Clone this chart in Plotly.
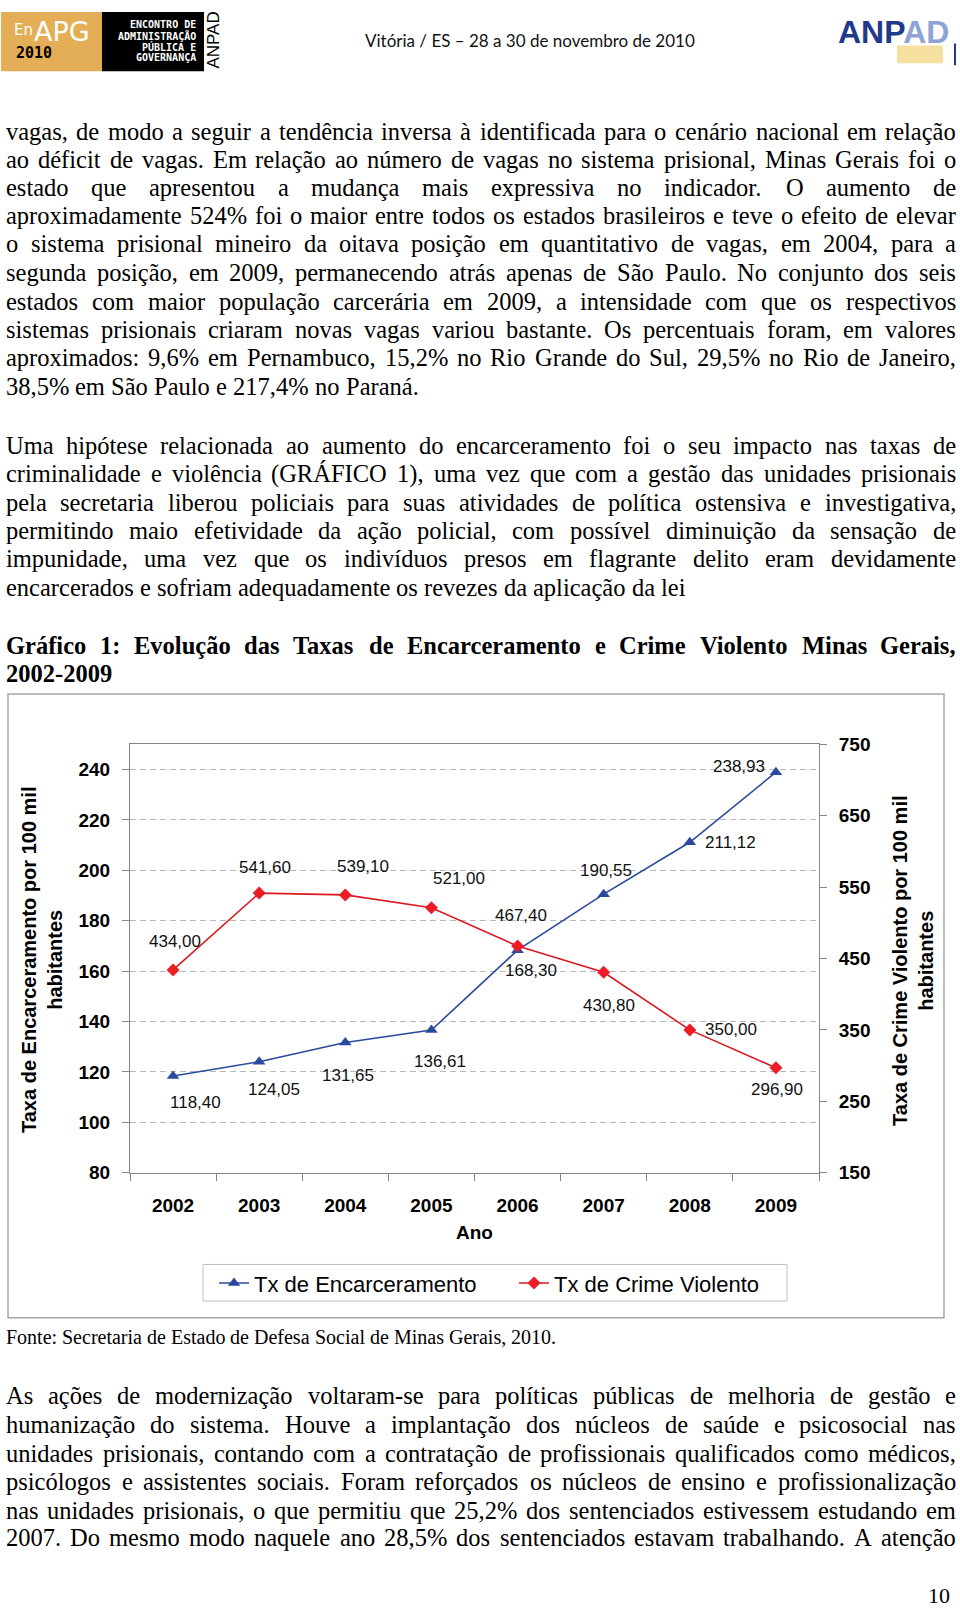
import unicodedata
import plotly.graph_objects as go

W, H = 960, 1616

# ---------------- chart data ----------------
years = ["2002", "2003", "2004", "2005", "2006", "2007", "2008", "2009"]
encarceramento = [118.40, 124.05, 131.65, 136.61, 168.30, 190.55, 211.12, 238.93]
crime_violento = [434.00, 541.60, 539.10, 521.00, 467.40, 430.80, 350.00, 296.90]
enc_labels = ["118,40", "124,05", "131,65", "136,61", "168,30", "190,55", "211,12", "238,93"]
crime_labels = ["434,00", "541,60", "539,10", "521,00", "467,40", "430,80", "350,00", "296,90"]
left_ticks = [80, 100, 120, 140, 160, 180, 200, 220, 240]
right_ticks = [150, 250, 350, 450, 550, 650, 750]

# label offsets (pixels: dx right, dy up)
enc_off = [(22, -27), (15, -28), (3, -33), (9, -31), (13, -20), (2, 24), (41, 0), (-37, 6)]
crime_off = [(2, 28), (6, 26), (18, 28), (28, 29), (3, 31), (5, -33), (41, 0), (1, -22)]

# ---------------- page text ----------------
para1 = [
    "vagas, de modo a seguir a tendência inversa à identificada para o cenário nacional em relação",
    "ao déficit de vagas. Em relação ao número de vagas no sistema prisional, Minas Gerais foi o",
    "estado que apresentou a mudança mais expressiva no indicador. O aumento de",
    "aproximadamente 524% foi o maior entre todos os estados brasileiros e teve o efeito de elevar",
    "o sistema prisional mineiro da oitava posição em quantitativo de vagas, em 2004, para a",
    "segunda posição, em 2009, permanecendo atrás apenas de São Paulo. No conjunto dos seis",
    "estados com maior população carcerária em 2009, a intensidade com que os respectivos",
    "sistemas prisionais criaram novas vagas variou bastante. Os percentuais foram, em valores",
    "aproximados: 9,6% em Pernambuco, 15,2% no Rio Grande do Sul, 29,5% no Rio de Janeiro,",
    "38,5% em São Paulo e 217,4% no Paraná.",
]
para1_y = [123, 151.5, 180, 208.5, 237, 266, 295, 323.5, 352, 381]

para2 = [
    "Uma hipótese relacionada ao aumento do encarceramento foi o seu impacto nas taxas de",
    "criminalidade e violência (GRÁFICO 1), uma vez que com a gestão das unidades prisionais",
    "pela secretaria liberou policiais para suas atividades de política ostensiva e investigativa,",
    "permitindo maio efetividade da ação policial, com possível diminuição da sensação de",
    "impunidade, uma vez que os indivíduos presos em flagrante delito eram devidamente",
    "encarcerados e sofriam adequadamente os revezes da aplicação da lei",
]
para2_y = [441, 470, 498.5, 527, 556, 585]

title_lines = [
    "Gráfico 1: Evolução das Taxas de Encarceramento e Crime Violento Minas Gerais,",
    "2002-2009",
]
title_y = [644, 672]

para3 = [
    "As ações de modernização voltaram-se para políticas públicas de melhoria de gestão e",
    "humanização do sistema. Houve a implantação dos núcleos de saúde e psicosocial nas",
    "unidades prisionais, contando com a contratação de profissionais qualificados como médicos,",
    "psicólogos e assistentes sociais. Foram reforçados os núcleos de ensino e profissionalização",
    "nas unidades prisionais, o que permitiu que 25,2% dos sentenciados estivessem estudando em",
    "2007. Do mesmo modo naquele ano 28,5% dos sentenciados estavam trabalhando. A atenção",
]
para3_y = [1404, 1433, 1462, 1491, 1520, 1548]

fonte_text = "Fonte: Secretaria de Estado de Defesa Social de Minas Gerais, 2010."

# ---------------- Times metrics (per 1000 em) ----------------
def _m(lower, upper):
    d = {}
    for ch, v in zip("abcdefghijklmnopqrstuvwxyz", lower):
        d[ch] = v
    for ch, v in zip("ABCDEFGHIJKLMNOPQRSTUVWXYZ", upper):
        d[ch] = v
    for ch in "0123456789":
        d[ch] = 500
    return d

TIMES = _m([444, 500, 444, 500, 444, 333, 500, 500, 278, 278, 500, 278, 778, 500, 500, 500, 500, 333, 389, 278, 500, 500, 722, 500, 500, 444],
           [722, 667, 667, 722, 611, 556, 722, 722, 333, 389, 722, 611, 889, 722, 722, 556, 722, 667, 556, 611, 722, 722, 944, 722, 722, 611])
TIMES.update({" ": 250, ",": 250, ".": 250, ":": 278, ";": 278, "%": 833, "-": 333, "(": 333, ")": 333, "/": 278})
TIMES_B = _m([500, 556, 444, 556, 444, 333, 500, 556, 278, 333, 556, 278, 833, 556, 500, 556, 556, 444, 389, 333, 556, 500, 722, 500, 500, 444],
             [722, 667, 722, 722, 667, 611, 778, 778, 389, 500, 778, 667, 944, 722, 778, 611, 778, 722, 556, 667, 722, 722, 1000, 722, 722, 667])
TIMES_B.update({" ": 250, ",": 250, ".": 250, ":": 333, ";": 333, "%": 1000, "-": 333, "(": 333, ")": 333, "/": 278})


def text_width(s, fs, bold=False):
    tbl = TIMES_B if bold else TIMES
    w = 0
    for ch in s:
        if ch in tbl:
            w += tbl[ch]
        else:
            base = unicodedata.normalize("NFD", ch)[0]
            w += tbl.get(base, 500)
    return w * fs / 1000.0


def px(x):
    return x / W


def py(y):
    return 1 - y / H


annotations = []
shapes = []

SERIF = "Liberation Serif, Times New Roman, serif"
SANS = "Liberation Sans, Arial, sans-serif"
BODY_FS = 24.5
X0, X1 = 5, 955


def add_line(line, y, fs, bold=False, justify=True):
    words = line.split(" ")
    widths = [text_width(w, fs, bold) for w in words]
    if justify and len(words) > 1:
        gap = (X1 - X0 - sum(widths)) / (len(words) - 1)
    else:
        gap = text_width(" ", fs, bold)
    x = X0
    for wd_text, wd in zip(words, widths):
        annotations.append(dict(
            x=px(x), y=py(y), xref="paper", yref="paper", text=wd_text,
            xanchor="left", yanchor="middle", showarrow=False, borderpad=0,
            font=dict(family=SERIF, size=fs, color="black", weight="bold" if bold else "normal")))
        x += wd + gap


for i, (ln, yy) in enumerate(zip(para1, para1_y)):
    add_line(ln, yy, BODY_FS, justify=(i < len(para1) - 1))
for i, (ln, yy) in enumerate(zip(para2, para2_y)):
    add_line(ln, yy, BODY_FS, justify=(i < len(para2) - 1))
for i, (ln, yy) in enumerate(zip(title_lines, title_y)):
    add_line(ln, yy, BODY_FS, bold=True, justify=(i == 0))
for ln, yy in zip(para3, para3_y):
    add_line(ln, yy, BODY_FS, justify=True)
add_line(fonte_text, 1344, 20, justify=False)

annotations.append(dict(x=px(952), y=py(1606), xref="paper", yref="paper", text="10",
                        xanchor="right", yanchor="middle", showarrow=False,
                        font=dict(family=SERIF, size=22, color="black")))

# ---------------- header ----------------
shapes.append(dict(type="rect", xref="paper", yref="paper", x0=px(1), x1=px(102), y0=py(62), y1=py(2),
                   fillcolor="#E3AE55", line=dict(width=0), layer="below"))
shapes.append(dict(type="rect", xref="paper", yref="paper", x0=px(102), x1=px(204), y0=py(62), y1=py(2),
                   fillcolor="black", line=dict(width=0), layer="below"))
annotations.append(dict(x=px(12), y=py(20), xref="paper", yref="paper", text="En", xanchor="left",
                        yanchor="middle", showarrow=False, font=dict(family="DejaVu Sans", size=15, color="white")))
annotations.append(dict(x=px(32), y=py(22), xref="paper", yref="paper", text="APG", xanchor="left",
                        yanchor="middle", showarrow=False, font=dict(family="DejaVu Sans", size=27, color="white")))
annotations.append(dict(x=px(14), y=py(44), xref="paper", yref="paper", text="2010", xanchor="left",
                        yanchor="middle", showarrow=False,
                        font=dict(family="DejaVu Sans Mono", size=15, color="black", weight="bold")))
for t, yy in zip(["ENCONTRO DE", "ADMINISTRAÇÃO", "PÚBLICA E", "GOVERNANÇA"], [15, 26, 37, 48]):
    annotations.append(dict(x=px(198), y=py(yy), xref="paper", yref="paper", text=t, xanchor="right",
                            yanchor="middle", showarrow=False,
                            font=dict(family="DejaVu Sans Mono", size=10, color="white", weight="bold")))
annotations.append(dict(x=px(214), y=py(31), xref="paper", yref="paper", text="ANPAD", textangle=-90,
                        xanchor="center", yanchor="middle", showarrow=False,
                        font=dict(family=SANS, size=17, color="black")))
annotations.append(dict(x=px(530), y=py(31), xref="paper", yref="paper",
                        text="Vitória / ES – 28 a 30 de novembro de 2010", xanchor="center",
                        yanchor="middle", showarrow=False, font=dict(family="Lato", size=17, color="#111")))
annotations.append(dict(x=px(893), y=py(22), xref="paper", yref="paper",
                        text="ANP<span style='color:#8FA3D6'>AD</span>", xanchor="center",
                        yanchor="middle", showarrow=False,
                        font=dict(family="Liberation Sans Narrow, Arial Narrow, Liberation Sans", size=32,
                                  color="#1F3A8A", weight="bold")))
shapes.append(dict(type="rect", xref="paper", yref="paper", x0=px(897), x1=px(943), y0=py(54), y1=py(36),
                   fillcolor="#F6E0A0", line=dict(width=0), layer="below"))
shapes.append(dict(type="line", xref="paper", yref="paper", x0=px(955), x1=px(955), y0=py(56), y1=py(34),
                   line=dict(color="#1F3A8A", width=2)))

# ---------------- chart frame & legend box ----------------
shapes.append(dict(type="rect", xref="paper", yref="paper", x0=px(8), x1=px(944), y0=py(1325), y1=py(693),
                   line=dict(color="#A6A6A6", width=1.5), fillcolor="rgba(0,0,0,0)", layer="below"))
shapes.append(dict(type="rect", xref="paper", yref="paper", x0=px(203), x1=px(787), y0=py(1308), y1=py(1271),
                   line=dict(color="#BFBFBF", width=1), fillcolor="white", layer="below"))

# axis titles
annotations.append(dict(x=px(42.5), y=py(963), xref="paper", yref="paper",
                        text="Taxa de Encarceramento por 100 mil<br>habitantes", textangle=-90,
                        xanchor="center", yanchor="middle", showarrow=False,
                        font=dict(family=SANS, size=20, color="black", weight="bold")))
annotations.append(dict(x=px(913.5), y=py(964), xref="paper", yref="paper",
                        text="Taxa de Crime Violento por 100 mil<br>habitantes", textangle=-90,
                        xanchor="center", yanchor="middle", showarrow=False,
                        font=dict(family=SANS, size=20, color="black", weight="bold")))
annotations.append(dict(x=px(474.5), y=py(1239), xref="paper", yref="paper", text="Ano",
                        xanchor="center", yanchor="middle", showarrow=False,
                        font=dict(family=SANS, size=19, color="black", weight="bold")))

# data labels (category axis positions given as serial numbers)
for i, (v, lab, (dx, dy)) in enumerate(zip(encarceramento, enc_labels, enc_off)):
    annotations.append(dict(x=i, y=v, xref="x", yref="y", text=lab, xshift=dx, yshift=dy,
                            showarrow=False, xanchor="center", yanchor="middle",
                            font=dict(family=SANS, size=17, color="#111")))
for i, (v, lab, (dx, dy)) in enumerate(zip(crime_violento, crime_labels, crime_off)):
    annotations.append(dict(x=i, y=v, xref="x", yref="y2", text=lab, xshift=dx, yshift=dy,
                            showarrow=False, xanchor="center", yanchor="middle",
                            font=dict(family=SANS, size=17, color="#111")))

BLUE = "#2B4A9C"
RED = "#DA1A22"

fig = go.Figure()
fig.add_trace(go.Scatter(x=years, y=encarceramento, name="Tx de Encarceramento", mode="lines+markers",
                         line=dict(color=BLUE, width=1.6),
                         marker=dict(symbol="triangle-up", size=11, color=BLUE)))
fig.add_trace(go.Scatter(x=years, y=crime_violento, name="Tx de Crime Violento", mode="lines+markers",
                         yaxis="y2", line=dict(color=RED, width=1.6),
                         marker=dict(symbol="diamond", size=10, color="#EE1C25")))

AX = "#868686"
fig.update_layout(
    width=W, height=H, autosize=False,
    margin=dict(l=0, r=0, t=0, b=0, pad=0),
    paper_bgcolor="white", plot_bgcolor="white",
    showlegend=True,
    legend=dict(orientation="h", x=px(214), y=py(1290), xanchor="left", yanchor="middle",
                bgcolor="rgba(0,0,0,0)", borderwidth=0, entrywidth=255,
                font=dict(family=SANS, size=22, color="black")),
    xaxis=dict(domain=[px(130), px(819)], type="category", range=[-0.5, 7.5],
               tickson="boundaries", ticks="outside", ticklen=7, tickcolor=AX,
               showline=True, linecolor=AX, linewidth=1, mirror=True, showgrid=False,
               ticklabelstandoff=16,
               tickfont=dict(family=SANS, size=19, color="black", weight="bold")),
    yaxis=dict(domain=[py(1178), py(744)], range=[80, 250], tickvals=left_ticks,
               ticks="outside", ticklen=7, tickcolor=AX, showline=True, linecolor=AX, linewidth=1,
               showgrid=True, gridcolor="#B8B8B8", griddash="6px,4px", gridwidth=1, zeroline=False,
               ticklabelstandoff=8,
               tickfont=dict(family=SANS, size=19, color="black", weight="bold")),
    yaxis2=dict(overlaying="y", side="right", range=[150, 750], tickvals=right_ticks,
                ticks="outside", ticklen=7, tickcolor=AX, showline=True, linecolor=AX, linewidth=1,
                showgrid=False, zeroline=False, ticklabelstandoff=8,
                tickfont=dict(family=SANS, size=19, color="black", weight="bold")),
    annotations=annotations,
    shapes=shapes,
)

fig.write_html(
    "out.html",
    config={"displayModeBar": False},
    post_script="document.body.style.margin='0';document.body.style.padding='0';"
                "document.documentElement.style.margin='0';",
)
